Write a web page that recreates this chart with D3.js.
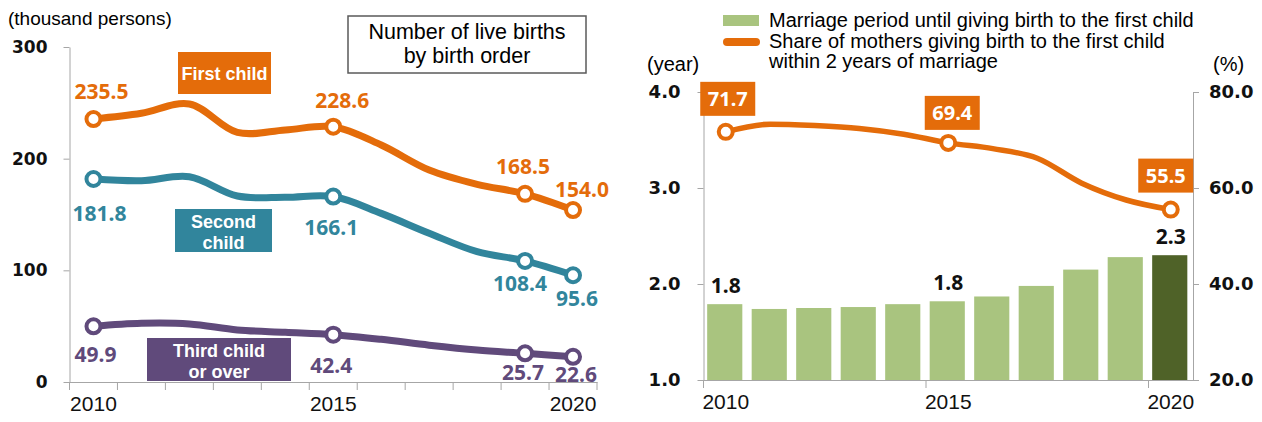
<!DOCTYPE html>
<html>
<head>
<meta charset="utf-8">
<script src="https://cdn.jsdelivr.net/npm/d3@7"></script>
<style>
  body { margin: 0; background: #fff; }
  svg { display: block; }
</style>
</head>
<body>
<div id="chart"></div>
<script>
// Data
var years = ["2010", "2011", "2012", "2013", "2014", "2015", "2016", "2017", "2018", "2019", "2020"];
var firstChild = [235.5, 240.6, 249.0, 223.5, 225.7, 228.6, 212.2, 189.8, 177.0, 168.5, 154.0];
var secondChild = [181.8, 180.3, 183.8, 166.6, 165.4, 166.1, 151.0, 133.2, 116.7, 108.4, 95.6];
var thirdChild = [49.9, 52.6, 52.0, 46.6, 44.5, 42.4, 38.2, 33.0, 28.6, 25.7, 22.6];
var markedLeft = ["2010", "2015", "2019", "2020"];

var marriagePeriod = [1.79, 1.74, 1.75, 1.76, 1.79, 1.82, 1.87, 1.98, 2.15, 2.28, 2.30];
var shareWithin2 = [71.7, 73.3, 73.0, 72.4, 71.2, 69.4, 68.2, 66.2, 61.0, 57.5, 55.5];
var markedRight = ["2010", "2015", "2020"];

var birthTicks = [0, 100, 200, 300];
var periodTicks = [1, 2, 3, 4];
var shareTicks = [20, 40, 60, 80];
var yearLabels = ["2010", "2015", "2020"];

var fmt = d3.format(".1f");

var svg = d3.select("#chart").append("svg")
    .attr("width", 1262)
    .attr("height", 422);

var axisColor = "#a6a6a6";
var tickFont = "'DejaVu Sans', sans-serif";
var valueFont = "'Noto Sans', sans-serif";
var plainFont = "'Liberation Sans', Arial, sans-serif";

// ---------------- Left chart: live births by birth order ----------------
var xL = d3.scaleBand().domain(years).range([69.5, 597]);
var yL = d3.scaleLinear().domain([0, 300]).range([382, 47]);
function cxL(y) { return xL(y) + xL.bandwidth() / 2; }

var left = svg.append("g");

left.append("text")
    .attr("x", 8).attr("y", 25)
    .style("font-family", plainFont).style("font-size", "19px")
    .text("(thousand persons)");

// y axis
var yAxisL = left.append("g")
    .attr("transform", "translate(69.5,0)")
    .call(d3.axisLeft(yL).tickValues(birthTicks).tickSize(6).tickSizeOuter(0).tickPadding(16));
yAxisL.selectAll("path, line").attr("stroke", axisColor);
yAxisL.selectAll("text")
    .style("font-family", tickFont).style("font-size", "17px").style("font-weight", "bold").attr("fill", "#111");

// x axis
var xAxisL = left.append("g")
    .attr("transform", "translate(0,382)")
    .call(d3.axisBottom(xL).tickValues(yearLabels).tickSize(0).tickPadding(14));
xAxisL.select(".domain").attr("stroke", axisColor);
xAxisL.selectAll("text")
    .style("font-family", plainFont).style("font-size", "21px").attr("fill", "#111");
left.selectAll(".bound-tick")
    .data(years.concat(["end"]))
    .enter().append("line")
    .attr("x1", function (d) { return d === "end" ? xL.range()[1] : xL(d); })
    .attr("x2", function (d) { return d === "end" ? xL.range()[1] : xL(d); })
    .attr("y1", 382).attr("y2", 390)
    .attr("stroke", axisColor);

// title box
left.append("rect")
    .attr("x", 348).attr("y", 16).attr("width", 238).attr("height", 57)
    .attr("fill", "#fff").attr("stroke", "#5a5a5a").attr("stroke-width", 1.5);
left.append("text")
    .attr("x", 467).attr("y", 39).attr("text-anchor", "middle")
    .style("font-family", plainFont).style("font-size", "21.5px")
    .text("Number of live births");
left.append("text")
    .attr("x", 467).attr("y", 63).attr("text-anchor", "middle")
    .style("font-family", plainFont).style("font-size", "21.5px")
    .text("by birth order");

var births = [
    { values: firstChild, color: "#e46c0a",
      offsets: { "2010": [8, -20], "2015": [9, -19], "2019": [-2, -20], "2020": [9, -13] },
      box: { x: 178, y: 52, w: 93, h: 42, lines: ["First child"], base: 28 } },
    { values: secondChild, color: "#31859c",
      offsets: { "2010": [6, 42], "2015": [-2, 38], "2019": [-5, 30], "2020": [4, 31] },
      box: { x: 175, y: 209, w: 97, h: 43, lines: ["Second", "child"], base: 19 } },
    { values: thirdChild, color: "#604a7b",
      offsets: { "2010": [2, 36], "2015": [-2, 38], "2019": [-2, 27], "2020": [3, 25] },
      box: { x: 147, y: 338, w: 144, h: 43, lines: ["Third child", "or over"], base: 19 } }
];

var lineL = d3.line()
    .x(function (d) { return cxL(d.year); })
    .y(function (d) { return yL(d.value); })
    .curve(d3.curveCatmullRom.alpha(0.5));

births.forEach(function (s) {
    var pts = years.map(function (y, i) { return { year: y, value: s.values[i] }; });
    left.append("path")
        .datum(pts)
        .attr("d", lineL)
        .attr("fill", "none")
        .attr("stroke", s.color)
        .attr("stroke-width", 7)
        .attr("stroke-linejoin", "round");

    var marked = pts.filter(function (d) { return markedLeft.indexOf(d.year) >= 0; });
    left.selectAll(null).data(marked).enter().append("circle")
        .attr("cx", function (d) { return cxL(d.year); })
        .attr("cy", function (d) { return yL(d.value); })
        .attr("r", 7)
        .attr("fill", "#fff")
        .attr("stroke", s.color)
        .attr("stroke-width", 4);

    left.selectAll(null).data(marked).enter().append("text")
        .attr("x", function (d) { return cxL(d.year) + s.offsets[d.year][0]; })
        .attr("y", function (d) { return yL(d.value) + s.offsets[d.year][1]; })
        .attr("text-anchor", "middle")
        .attr("fill", s.color)
        .style("font-family", valueFont).style("font-size", "21px").style("font-weight", "bold")
        .text(function (d) { return fmt(d.value); });

    var b = s.box;
    left.append("rect")
        .attr("x", b.x).attr("y", b.y).attr("width", b.w).attr("height", b.h)
        .attr("fill", s.color);
    b.lines.forEach(function (t, i) {
        left.append("text")
            .attr("x", b.x + b.w / 2).attr("y", b.y + b.base + i * 21)
            .attr("text-anchor", "middle")
            .attr("fill", "#fff")
            .style("font-family", plainFont).style("font-size", "18px").style("font-weight", "bold")
            .text(t);
    });
});

// ---------------- Right chart: marriage period / share ----------------
var xR = d3.scaleBand().domain(years).range([703.5, 1193]);
var yP = d3.scaleLinear().domain([1, 4]).range([380, 92]);
var yS = d3.scaleLinear().domain([20, 80]).range([380, 92]);
function cxR(y) { return xR(y) + xR.bandwidth() / 2; }

var right = svg.append("g");

// legend
right.append("rect")
    .attr("x", 723).attr("y", 15).attr("width", 36).attr("height", 11)
    .attr("fill", "#a9c47f");
right.append("line")
    .attr("x1", 727).attr("x2", 756).attr("y1", 42).attr("y2", 42)
    .attr("stroke", "#e46c0a").attr("stroke-width", 8).attr("stroke-linecap", "round");
[["Marriage period until giving birth to the first child", 27],
 ["Share of mothers giving birth to the first child", 48],
 ["within 2 years of marriage", 68]].forEach(function (l) {
    right.append("text")
        .attr("x", 769).attr("y", l[1])
        .style("font-family", plainFont).style("font-size", "20px")
        .text(l[0]);
});

right.append("text")
    .attr("x", 647).attr("y", 71)
    .style("font-family", plainFont).style("font-size", "20px")
    .text("(year)");
right.append("text")
    .attr("x", 1213).attr("y", 71)
    .style("font-family", plainFont).style("font-size", "20px")
    .text("(%)");

// bars
var barW = xR.bandwidth() * 0.79;
var bars = years.map(function (y, i) { return { year: y, value: marriagePeriod[i] }; });
right.selectAll(".bar").data(bars).enter().append("rect")
    .attr("class", "bar")
    .attr("x", function (d) { return cxR(d.year) - barW / 2 - 1; })
    .attr("y", function (d) { return yP(d.value); })
    .attr("width", barW)
    .attr("height", function (d) { return yP(1) - yP(d.value); })
    .attr("fill", function (d) { return d.year === "2020" ? "#4f6228" : "#a9c47f"; });

right.selectAll(".bar-label")
    .data(bars.filter(function (d) { return markedRight.indexOf(d.year) >= 0; }))
    .enter().append("text")
    .attr("x", function (d) { return cxR(d.year); })
    .attr("y", function (d) { return yP(d.value) - 11; })
    .attr("text-anchor", "middle")
    .attr("fill", "#111")
    .style("font-family", valueFont).style("font-size", "21px").style("font-weight", "bold")
    .text(function (d) { return fmt(d.value); });

// axes
var yAxisP = right.append("g")
    .attr("transform", "translate(703.5,0)")
    .call(d3.axisLeft(yP).tickValues(periodTicks).tickSize(6).tickSizeOuter(0).tickPadding(17)
        .tickFormat(d3.format(".1f")));
var yAxisS = right.append("g")
    .attr("transform", "translate(1193,0)")
    .call(d3.axisRight(yS).tickValues(shareTicks).tickSize(6).tickSizeOuter(0).tickPadding(10)
        .tickFormat(d3.format(".1f")));
[yAxisP, yAxisS].forEach(function (a) {
    a.selectAll("path, line").attr("stroke", axisColor);
    a.selectAll("text")
        .style("font-family", tickFont).style("font-size", "18px").style("font-weight", "bold").attr("fill", "#111");
});

var xAxisR = right.append("g")
    .attr("transform", "translate(0,380)")
    .call(d3.axisBottom(xR).tickValues(yearLabels).tickSize(0).tickPadding(14));
xAxisR.select(".domain").attr("stroke", axisColor);
xAxisR.selectAll("text")
    .style("font-family", plainFont).style("font-size", "21px").attr("fill", "#111");
right.selectAll(".r-tick").data(yearLabels).enter().append("line")
    .attr("x1", function (d) { return xR(d); })
    .attr("x2", function (d) { return xR(d); })
    .attr("y1", 380).attr("y2", 388)
    .attr("stroke", axisColor);

// share line
var sharePts = years.map(function (y, i) { return { year: y, value: shareWithin2[i] }; });
var lineR = d3.line()
    .x(function (d) { return cxR(d.year); })
    .y(function (d) { return yS(d.value); })
    .curve(d3.curveMonotoneX);
right.append("path")
    .datum(sharePts)
    .attr("d", lineR)
    .attr("fill", "none")
    .attr("stroke", "#e46c0a")
    .attr("stroke-width", 5.5)
    .attr("stroke-linejoin", "round");

var shareOffsets = { "2010": [2, -33], "2015": [4, -30], "2020": [-5, -34] };
var markedShare = sharePts.filter(function (d) { return markedRight.indexOf(d.year) >= 0; });
right.selectAll(".share-dot").data(markedShare).enter().append("circle")
    .attr("cx", function (d) { return cxR(d.year); })
    .attr("cy", function (d) { return yS(d.value); })
    .attr("r", 7)
    .attr("fill", "#fff")
    .attr("stroke", "#e46c0a")
    .attr("stroke-width", 4);

var boxW = 55, boxH = 34;
right.selectAll(".share-box").data(markedShare).enter().append("rect")
    .attr("x", function (d) { return cxR(d.year) + shareOffsets[d.year][0] - boxW / 2; })
    .attr("y", function (d) { return yS(d.value) + shareOffsets[d.year][1] - boxH / 2; })
    .attr("width", boxW).attr("height", boxH)
    .attr("fill", "#e46c0a");
right.selectAll(".share-label").data(markedShare).enter().append("text")
    .attr("x", function (d) { return cxR(d.year) + shareOffsets[d.year][0]; })
    .attr("y", function (d) { return yS(d.value) + shareOffsets[d.year][1] + 7; })
    .attr("text-anchor", "middle")
    .attr("fill", "#fff")
    .style("font-family", valueFont).style("font-size", "20px").style("font-weight", "bold")
    .text(function (d) { return fmt(d.value); });
</script>
</body>
</html>
